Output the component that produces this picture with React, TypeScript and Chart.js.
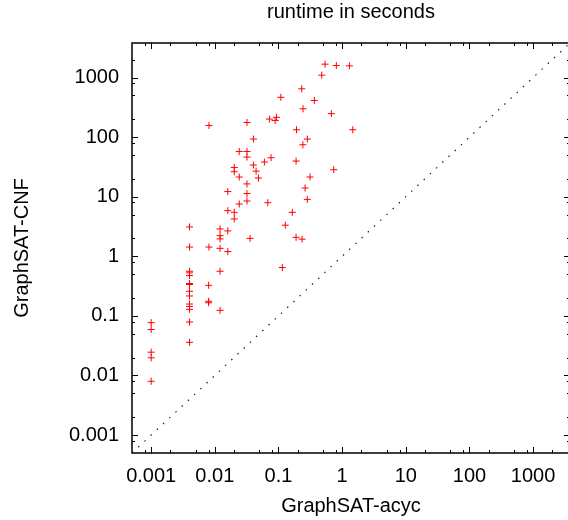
import { useEffect, useRef } from "react";
import { Chart, registerables } from "chart.js";

Chart.register(...registerables);

// runtime of GraphSAT-acyc (x) vs GraphSAT-CNF (y), seconds
const acycSeconds = [
  0.001, 0.001, 0.001, 0.001, 0.001,
  0.004, 0.004, 0.004, 0.004, 0.004, 0.004, 0.004, 0.004, 0.004, 0.004, 0.004, 0.004, 0.004, 0.004,
  0.0081, 0.0081, 0.008, 0.008, 0.008,
  0.0121, 0.0121, 0.0121, 0.0121, 0.0121, 0.0121,
  0.016, 0.016, 0.016, 0.016,
  0.0202, 0.0202, 0.0202, 0.0202,
  0.0242, 0.0242, 0.0242,
  0.032, 0.032, 0.032, 0.032, 0.032, 0.032,
  0.0358, 0.0404, 0.0404, 0.0445, 0.0484, 0.0601, 0.0679, 0.072, 0.0765, 0.0885, 0.0934,
  0.109, 0.115, 0.128, 0.165, 0.189, 0.192, 0.189, 0.232, 0.235, 0.243, 0.242, 0.262,
  0.284, 0.284, 0.313, 0.366, 0.478, 0.539, 0.677, 0.738, 0.811, 1.3, 1.47,
];
const cnfSeconds = [
  0.077, 0.059, 0.0246, 0.0198, 0.008,
  3.11, 1.43, 0.561, 0.527, 0.475, 0.349, 0.336, 0.259, 0.216, 0.158, 0.144, 0.129, 0.079, 0.036,
  157, 1.43, 0.326, 0.176, 0.166,
  2.88, 2.22, 1.96, 1.36, 0.561, 0.124,
  12.2, 5.83, 2.67, 1.2,
  31.0, 26.3, 5.47, 4.24,
  57.5, 21.4, 7.55,
  176, 57.5, 46.3, 16.4, 11.3, 8.48,
  2.0, 92.8, 34.0, 26.9, 20.6, 38.2, 7.94, 201, 45.1, 190, 215,
  466, 0.647, 3.33, 5.47, 39.7, 133, 2.08, 647, 1.94, 299, 74.5, 14.0,
  92.8, 9.03, 21.4, 412, 1097, 1677, 248, 28.4, 1589, 1571, 133,
];

const axisMin = 0.0005;
const axisMax = 3800;
const diagonalSeconds = [axisMin, axisMax];
const majorTickValues = [0.001, 0.01, 0.1, 1, 10, 100, 1000];
const majorTickLabels = ["0.001", "0.01", "0.1", "1", "10", "100", "1000"];
const minorTickDecades = [0.0001, 0.001, 0.01, 0.1, 1, 10, 100, 1000];
const minorTickFactors = [2, 5, 8];

const FONT = "'Liberation Sans', Arial, Helvetica, sans-serif";

const framePlugin = {
  id: "frame",
  afterDatasetsDraw(chart: any) {
    const { ctx, chartArea } = chart;
    const { left, right, top, bottom } = chartArea;
    const xs = chart.scales.x;
    const ys = chart.scales.y;
    const minor: number[] = [];
    minorTickDecades.forEach((d) =>
      minorTickFactors.forEach((f) => {
        const v = d * f;
        if (v > axisMin && v < axisMax) minor.push(v);
      })
    );
    ctx.save();
    ctx.strokeStyle = "#000";
    ctx.lineWidth = 1;
    const seg = (x1: number, y1: number, x2: number, y2: number) => {
      ctx.beginPath();
      ctx.moveTo(x1, y1);
      ctx.lineTo(x2, y2);
      ctx.stroke();
    };
    const xTick = (v: number, len: number) => {
      const p = Math.round(xs.getPixelForValue(v)) + 0.5;
      seg(p, bottom, p, bottom - len);
      seg(p, top, p, top + len);
    };
    const yTick = (v: number, len: number) => {
      const p = Math.round(ys.getPixelForValue(v)) + 0.5;
      seg(left, p, left + len, p);
      seg(right, p, right - len, p);
    };
    majorTickValues.forEach((v) => { xTick(v, 6); yTick(v, 6); });
    minor.forEach((v) => { xTick(v, 3); yTick(v, 3); });
    ctx.lineWidth = 1.5;
    ctx.strokeRect(left, top, right - left, bottom - top);
    ctx.restore();
  },
};

export default function App() {
  const ref = useRef<HTMLCanvasElement | null>(null);

  useEffect(() => {
    if (!ref.current) return;
    const points = acycSeconds.map((x, i) => ({ x, y: cnfSeconds[i] }));
    const diag = diagonalSeconds.map((v) => ({ x: v, y: v }));
    const setTicks = (scale: any) => {
      scale.ticks = majorTickValues.map((value) => ({ value }));
    };
    const label = (value: any) => {
      const i = majorTickValues.indexOf(Number(value));
      return i >= 0 ? majorTickLabels[i] : "";
    };
    const chart = new Chart(ref.current, {
      type: "scatter",
      data: {
        datasets: [
          {
            label: "runtime",
            data: points,
            pointStyle: "cross",
            pointRadius: 3.5,
            pointHoverRadius: 3.5,
            borderWidth: 1,
            borderColor: "#ff0000",
            backgroundColor: "#ff0000",
            order: 1,
          },
          {
            label: "y=x",
            data: diag,
            showLine: true,
            pointRadius: 0,
            borderColor: "#222",
            borderWidth: 1.2,
            borderDash: [1.5, 7],
            order: 2,
          } as any,
        ],
      },
      options: {
        animation: false,
        responsive: false,
        devicePixelRatio: 1,
        layout: { padding: { left: 0, top: 0, right: 30, bottom: 0 } },
        plugins: {
          legend: { display: false },
          tooltip: { enabled: false },
          title: {
            display: true,
            text: "runtime in seconds",
            fullSize: false,
            color: "#000",
            font: { family: FONT, size: 20, weight: "normal" },
            padding: { top: 0, bottom: 19 },
          },
        },
        scales: {
          x: {
            type: "logarithmic",
            min: axisMin,
            max: axisMax,
            grid: { display: false, drawTicks: false },
            border: { display: false },
            afterBuildTicks: setTicks,
            afterFit: (s: any) => { s.height = 67; },
            ticks: {
              autoSkip: false,
              maxRotation: 0,
              padding: 11,
              color: "#000",
              font: { family: FONT, size: 20 },
              callback: label,
            },
            title: {
              display: true,
              text: "GraphSAT-acyc",
              color: "#000",
              font: { family: FONT, size: 20 },
              padding: { top: 0, bottom: 2 },
            },
          },
          y: {
            type: "logarithmic",
            min: axisMin,
            max: axisMax,
            grid: { display: false, drawTicks: false },
            border: { display: false },
            afterBuildTicks: setTicks,
            afterFit: (s: any) => { s.width = 132; },
            ticks: {
              autoSkip: false,
              padding: 13,
              color: "#000",
              font: { family: FONT, size: 20 },
              callback: label,
            },
            title: {
              display: true,
              text: "GraphSAT-CNF",
              color: "#000",
              font: { family: FONT, size: 20 },
              padding: { top: 10, bottom: 0 },
            },
          },
        },
      } as any,
      plugins: [framePlugin],
    });
    return () => chart.destroy();
  }, []);

  return (
    <div
      style={{
        position: "fixed",
        left: 0,
        top: 0,
        width: 568,
        height: 520,
        overflow: "hidden",
        background: "#fff",
      }}
    >
      <canvas ref={ref} width={600} height={520} style={{ display: "block" }} />
    </div>
  );
}
